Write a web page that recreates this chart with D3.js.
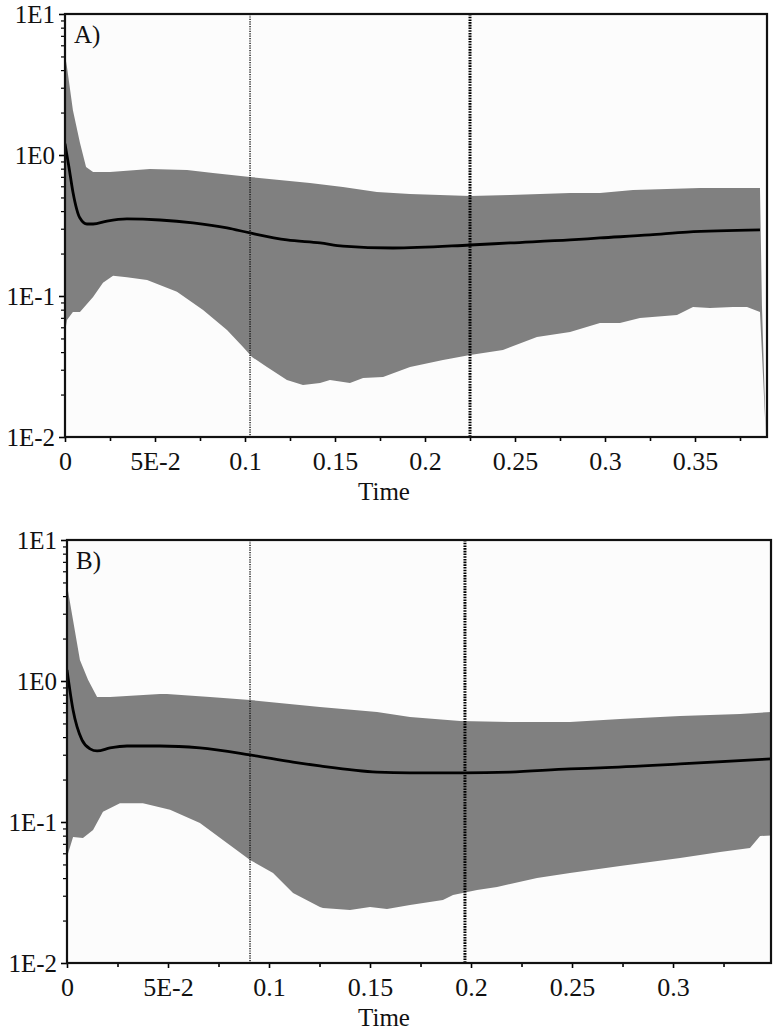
<!DOCTYPE html>
<html><head><meta charset="utf-8">
<script src="https://cdn.jsdelivr.net/npm/d3@7"></script>
<style>
body{margin:0;background:#fff}
svg{display:block}
text{font-family:"Liberation Serif","Times New Roman",serif;fill:#111}
</style>
</head><body>
<svg id="c" width="774" height="1030"></svg>
<script>
// ---------- data ----------
const yTickValues = [0.01, 0.1, 1, 10];
const yTickLabels = ["1E-2", "1E-1", "1E0", "1E1"];

const xTickValuesA = [0, 0.05, 0.1, 0.15, 0.2, 0.25, 0.3, 0.35];
const xTickLabelsA = ["0", "5E-2", "0.1", "0.15", "0.2", "0.25", "0.3", "0.35"];
const xTickValuesB = [0, 0.05, 0.1, 0.15, 0.2, 0.25, 0.3];
const xTickLabelsB = ["0", "5E-2", "0.1", "0.15", "0.2", "0.25", "0.3"];

const dividersA = [0.1028, 0.225];
const dividersB = [0.0906, 0.197];

const upperA = [[0,5.12],[0.0011,4.2],[0.0044,2.08],[0.0083,1.22],[0.0117,0.822],[0.0156,0.758],[0.025,0.758],[0.0472,0.796],[0.0678,0.783],[0.0822,0.745],[0.1028,0.698],[0.1361,0.633],[0.1544,0.593],[0.1733,0.547],[0.1917,0.529],[0.225,0.512],[0.2472,0.52],[0.2806,0.538],[0.2972,0.538],[0.3156,0.565],[0.3344,0.574],[0.3528,0.583],[0.3861,0.583],[0.3872,0.085],[0.3894,0.0101]];
const medianA = [[0,1.2],[0.0022,0.82],[0.0044,0.547],[0.0083,0.357],[0.0122,0.324],[0.0156,0.324],[0.0233,0.34],[0.0344,0.352],[0.0528,0.346],[0.0711,0.33],[0.09,0.304],[0.1028,0.28],[0.1233,0.25],[0.1417,0.238],[0.1544,0.226],[0.1822,0.219],[0.225,0.23],[0.2472,0.238],[0.2806,0.25],[0.2972,0.258],[0.325,0.271],[0.3456,0.284],[0.3861,0.294]];
const lowerA = [[0,0.055],[0.0011,0.0676],[0.0044,0.077],[0.0083,0.077],[0.0156,0.0985],[0.0211,0.124],[0.0267,0.139],[0.0344,0.136],[0.0456,0.13],[0.0622,0.107],[0.0767,0.0796],[0.09,0.0574],[0.0989,0.0435],[0.1039,0.0369],[0.1122,0.0314],[0.1233,0.0254],[0.1322,0.0234],[0.1417,0.0242],[0.1472,0.0254],[0.1583,0.0242],[0.1656,0.0262],[0.1767,0.0266],[0.1917,0.0314],[0.21,0.0352],[0.225,0.0382],[0.2433,0.0414],[0.2622,0.0512],[0.2806,0.0555],[0.2972,0.0644],[0.3083,0.0644],[0.3194,0.0698],[0.34,0.0733],[0.3489,0.0836],[0.3583,0.0822],[0.3711,0.0836],[0.3789,0.0836],[0.3861,0.077],[0.3894,0.01]];

const upperB = [[0,4.8],[0.003,2.7],[0.0064,1.41],[0.0104,1.02],[0.0149,0.77],[0.0213,0.77],[0.046,0.809],[0.0495,0.809],[0.0708,0.77],[0.0906,0.733],[0.1252,0.654],[0.1535,0.603],[0.1698,0.556],[0.1946,0.52],[0.2193,0.512],[0.249,0.512],[0.2738,0.538],[0.3035,0.565],[0.3332,0.583],[0.3485,0.603]];
const medianB = [[0,1.2],[0.003,0.623],[0.0074,0.382],[0.0114,0.33],[0.0149,0.319],[0.0213,0.335],[0.0297,0.346],[0.046,0.346],[0.0658,0.335],[0.0906,0.299],[0.1119,0.266],[0.1252,0.25],[0.1535,0.226],[0.1698,0.223],[0.196,0.223],[0.2193,0.226],[0.249,0.238],[0.2639,0.242],[0.3035,0.258],[0.3485,0.28]];
const lowerB = [[0,0.0565],[0.003,0.0783],[0.0079,0.077],[0.0129,0.0878],[0.0178,0.118],[0.0262,0.136],[0.0376,0.136],[0.051,0.122],[0.0658,0.0985],[0.0792,0.071],[0.0906,0.0538],[0.102,0.0435],[0.1119,0.0314],[0.1252,0.025],[0.1267,0.0246],[0.1401,0.0238],[0.15,0.025],[0.1584,0.0242],[0.1698,0.0258],[0.1861,0.028],[0.1911,0.0304],[0.203,0.033],[0.2129,0.0346],[0.2327,0.0401],[0.249,0.0435],[0.2738,0.0488],[0.3035,0.0555],[0.3233,0.0613],[0.3381,0.0654],[0.3431,0.0796],[0.3485,0.0803]];

// ---------- drawing ----------
const svg = d3.select("#c");

function panel(cfg) {
  const x = d3.scaleLinear().domain([0, cfg.xMax]).range([cfg.left, cfg.right]);
  const y = d3.scaleLog().domain([0.01, 10]).range([cfg.bottom, cfg.top]);
  const g = svg.append("g");
  const clipId = "clip" + cfg.name;
  g.append("clipPath").attr("id", clipId).append("rect")
    .attr("x", cfg.left).attr("y", cfg.top)
    .attr("width", cfg.right - cfg.left).attr("height", cfg.bottom - cfg.top);

  g.append("rect").attr("x", cfg.left).attr("y", cfg.top)
    .attr("width", cfg.right - cfg.left).attr("height", cfg.bottom - cfg.top)
    .attr("fill", "#fcfcfc");

  const plot = g.append("g").attr("clip-path", `url(#${clipId})`);
  const line = d3.line().x(d => x(d[0])).y(d => y(d[1]));
  const smooth = d3.line().x(d => x(d[0])).y(d => y(d[1])).curve(d3.curveMonotoneX);
  const poly = cfg.upper.concat(cfg.lower.slice().reverse());
  plot.append("path").attr("d", line(poly) + "Z").attr("fill", "#808080");
  plot.append("path").attr("d", smooth(cfg.median)).attr("fill", "none")
    .attr("stroke", "#000").attr("stroke-width", 2.8).attr("stroke-linejoin", "round");

  // dotted dividers
  plot.append("line").attr("x1", x(cfg.dividers[0])).attr("x2", x(cfg.dividers[0]))
    .attr("y1", cfg.top).attr("y2", cfg.bottom)
    .attr("stroke", "#111").attr("stroke-width", 1.4).attr("stroke-dasharray", "1.2,1.2");
  plot.append("line").attr("x1", x(cfg.dividers[1])).attr("x2", x(cfg.dividers[1]))
    .attr("y1", cfg.top).attr("y2", cfg.bottom)
    .attr("stroke", "#000").attr("stroke-width", 3).attr("stroke-dasharray", "1.6,1.1");

  // x axis
  const xAxis = d3.axisBottom(x).tickValues(cfg.xTicks)
    .tickFormat((d, i) => cfg.xLabels[i]).tickSize(5).tickPadding(10);
  const xa = g.append("g").attr("transform", `translate(0,${cfg.bottom})`).call(xAxis);
  xa.select(".domain").remove();
  xa.selectAll("line").attr("stroke", "#000").attr("stroke-width", 1.6);
  xa.selectAll("text").attr("font-size", 26).attr("font-family", "Liberation Serif").attr("fill", "#111");

  const minorX = d3.range(0.025, cfg.xMax, 0.05);
  const xm = g.append("g").attr("transform", `translate(0,${cfg.bottom})`)
    .call(d3.axisBottom(x).tickValues(minorX).tickFormat("").tickSize(4));
  xm.select(".domain").remove();
  xm.selectAll("line").attr("stroke", "#000").attr("stroke-width", 1.6);

  // y axis
  const yAxis = d3.axisLeft(y).tickValues(yTickValues)
    .tickFormat((d, i) => yTickLabels[i]).tickSize(6).tickPadding(4);
  const ya = g.append("g").attr("transform", `translate(${cfg.left},0)`).call(yAxis);
  ya.select(".domain").remove();
  ya.selectAll("line").attr("stroke", "#000").attr("stroke-width", 1.6);
  ya.selectAll("text").attr("font-size", 25).attr("font-family", "Liberation Serif").attr("fill", "#111");

  const minorY = [];
  [0.01, 0.1, 1].forEach(b => { for (let k = 2; k <= 9; k++) minorY.push(b * k); });
  const ym = g.append("g").attr("transform", `translate(${cfg.left},0)`)
    .call(d3.axisLeft(y).tickValues(minorY).tickFormat("").tickSize(4));
  ym.select(".domain").remove();
  ym.selectAll("line").attr("stroke", "#000").attr("stroke-width", 1.2);

  // frame
  g.append("rect").attr("x", cfg.left).attr("y", cfg.top)
    .attr("width", cfg.right - cfg.left).attr("height", cfg.bottom - cfg.top)
    .attr("fill", "none").attr("stroke", "#111").attr("stroke-width", 2.2);

  g.append("text").attr("x", cfg.left + 9).attr("y", cfg.top + 29)
    .attr("font-size", 25).text(cfg.name + ")");
  g.append("text").attr("x", 384).attr("y", cfg.bottom + 63)
    .attr("text-anchor", "middle").attr("font-size", 25).text("Time");
}

panel({name: "A", left: 65, right: 767, top: 14, bottom: 437, xMax: 0.39,
  upper: upperA, median: medianA, lower: lowerA, dividers: dividersA,
  xTicks: xTickValuesA, xLabels: xTickLabelsA});
panel({name: "B", left: 67, right: 771, top: 540, bottom: 963, xMax: 0.3485,
  upper: upperB, median: medianB, lower: lowerB, dividers: dividersB,
  xTicks: xTickValuesB, xLabels: xTickLabelsB});
</script>
</body></html>
